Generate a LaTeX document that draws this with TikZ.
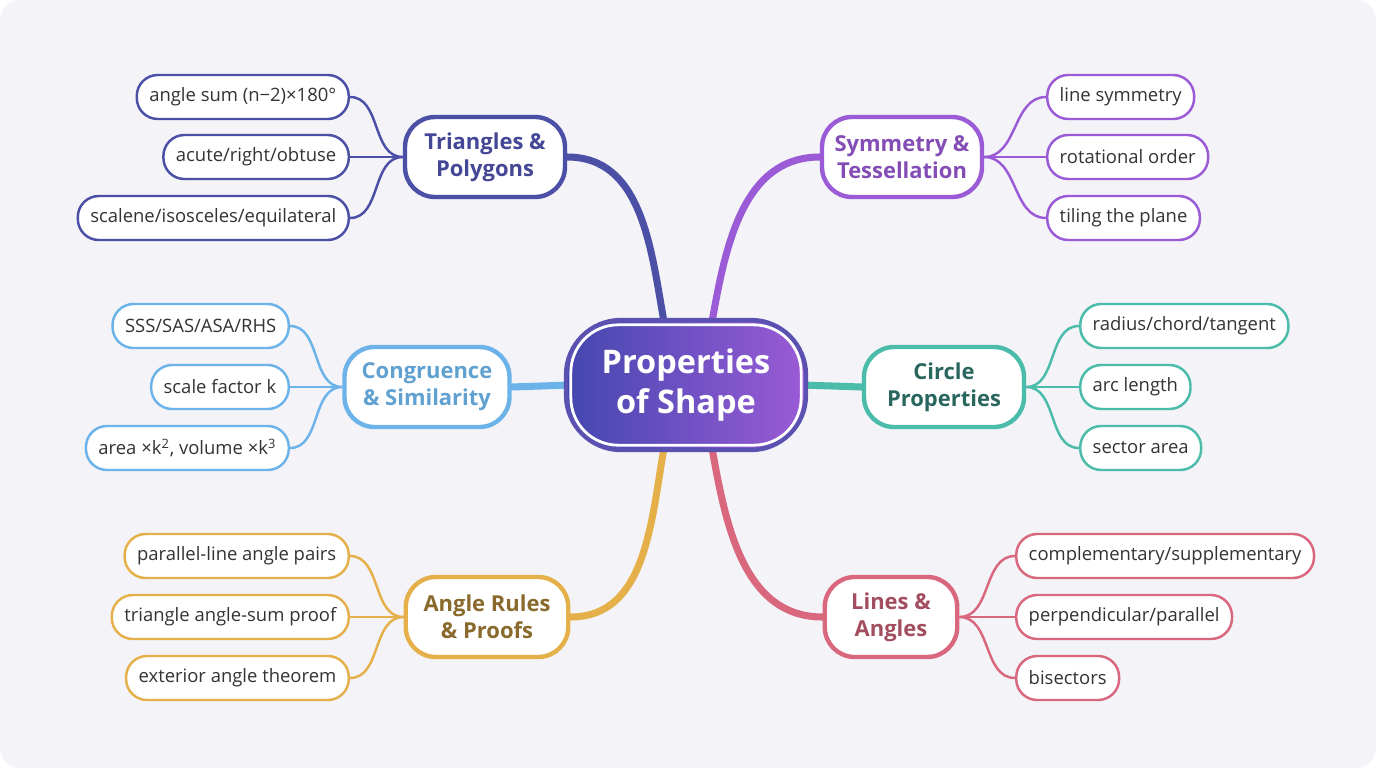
\documentclass[tikz,border=0pt]{standalone}
\usepackage{fontspec}
\setmainfont{Open Sans}
\usetikzlibrary{calc}
\definecolor{bg}{HTML}{F3F3F8}
\definecolor{triC}{HTML}{4B4FA6}
\definecolor{symC}{HTML}{9B5BD6}
\definecolor{conC}{HTML}{6BB3E8}
\definecolor{cirC}{HTML}{4BBBAA}
\definecolor{angC}{HTML}{E5B04A}
\definecolor{linC}{HTML}{D9687E}
\tikzset{
  hub/.style={draw=#1, fill=white, line width=2.5pt, rounded corners=0.6cm,
    minimum height=1.6cm, align=center, font=\fontsize{12.5}{15.5}\selectfont\bfseries},
  leaf/.style={draw=#1, fill=white, line width=1.4pt, rounded corners=0.42cm,
    minimum height=0.88cm, inner xsep=0.25cm, text=black!80,
    font=\fontsize{10.5}{12}\selectfont},
  branch/.style={draw=#1, line width=4pt, line cap=round},
  twig/.style={draw=#1, line width=1.4pt}
}
\begin{document}
\begin{tikzpicture}[x=0.02cm,y=-0.02cm]
\useasboundingbox (0,0) rectangle (1376,768);
\fill[bg, rounded corners=0.4cm] (0,0) rectangle (1376,768);

% hubs
\node[hub=triC, text=triC!90!black, minimum width=3.2cm] (tri) at (485,157) {Triangles \&\\Polygons};
\node[hub=symC, text=symC!85!black, minimum width=3.2cm] (sym) at (902,157) {Symmetry \&\\Tessellation};
\node[hub=conC, text=conC!90!black, minimum width=3.3cm] (con) at (427,387) {Congruence\\\& Similarity};
\node[hub=cirC, text=cirC!55!black, minimum width=3.2cm] (cir) at (944,387) {Circle\\Properties};
\node[hub=angC, text=angC!60!black, minimum width=3.25cm] (ang) at (487,617) {Angle Rules\\\& Proofs};
\node[hub=linC, text=linC!75!black, minimum width=2.65cm] (lin) at (891,617) {Lines \&\\Angles};

% branches from the centre
\draw[branch=triC] (664,322) to[out=100,in=0] (tri.east);
\draw[branch=symC] (712,322) to[out=80,in=180] (sym.west);
\draw[branch=conC] (570,385) -- (con.east);
\draw[branch=cirC] (802,385) -- (cir.west);
\draw[branch=angC] (664,448) to[out=-100,in=0] (ang.east);
\draw[branch=linC] (712,448) to[out=-80,in=180] (lin.west);

% centre
\node[fill=triC, left color=triC!90!blue, right color=symC, draw=triC!80!symC,
  line width=2.5pt, rounded corners=1.1cm, minimum width=4.8cm, minimum height=2.6cm,
  text=white, align=center, font=\fontsize{18.5}{23}\selectfont\bfseries] (c) at (686,385) {Properties\\of Shape};
\draw[white, line width=1.6pt, rounded corners=0.95cm]
  ($(c.south west)+(7,-7)$) rectangle ($(c.north east)+(-7,7)$);

% leaves, top left
\node[leaf=triC, anchor=east] (t1) at (350,97) {angle sum (n−2)×180°};
\node[leaf=triC, anchor=east] (t2) at (350,157) {acute/right/obtuse};
\node[leaf=triC, anchor=east] (t3) at (350,218) {scalene/isosceles/equilateral};
\foreach \n in {t1,t2,t3} \draw[twig=triC] (tri.west) to[out=180,in=0] (\n.east);

% leaves, top right
\node[leaf=symC, anchor=west] (s1) at (1046,97) {line symmetry};
\node[leaf=symC, anchor=west] (s2) at (1046,157) {rotational order};
\node[leaf=symC, anchor=west] (s3) at (1046,218) {tiling the plane};
\foreach \n in {s1,s2,s3} \draw[twig=symC] (sym.east) to[out=0,in=180] (\n.west);

% leaves, middle left
\node[leaf=conC, anchor=east] (k1) at (290,326) {SSS/SAS/ASA/RHS};
\node[leaf=conC, anchor=east] (k2) at (290,387) {scale factor k};
\node[leaf=conC, anchor=east] (k3) at (290,448) {area ×k\textsuperscript{2}, volume ×k\textsuperscript{3}};
\foreach \n in {k1,k2,k3} \draw[twig=conC] (con.west) to[out=180,in=0] (\n.east);

% leaves, middle right
\node[leaf=cirC, anchor=west] (r1) at (1079,326) {radius/chord/tangent};
\node[leaf=cirC, anchor=west] (r2) at (1079,387) {arc length};
\node[leaf=cirC, anchor=west] (r3) at (1079,448) {sector area};
\foreach \n in {r1,r2,r3} \draw[twig=cirC] (cir.east) to[out=0,in=180] (\n.west);

% leaves, bottom left
\node[leaf=angC, anchor=east] (a1) at (350,556) {parallel-line angle pairs};
\node[leaf=angC, anchor=east] (a2) at (350,617) {triangle angle-sum proof};
\node[leaf=angC, anchor=east] (a3) at (350,678) {exterior angle theorem};
\foreach \n in {a1,a2,a3} \draw[twig=angC] (ang.west) to[out=180,in=0] (\n.east);

% leaves, bottom right
\node[leaf=linC, anchor=west] (l1) at (1015,556) {complementary/supplementary};
\node[leaf=linC, anchor=west] (l2) at (1015,617) {perpendicular/parallel};
\node[leaf=linC, anchor=west] (l3) at (1015,678) {bisectors};
\foreach \n in {l1,l2,l3} \draw[twig=linC] (lin.east) to[out=0,in=180] (\n.west);
\end{tikzpicture}
\end{document}
